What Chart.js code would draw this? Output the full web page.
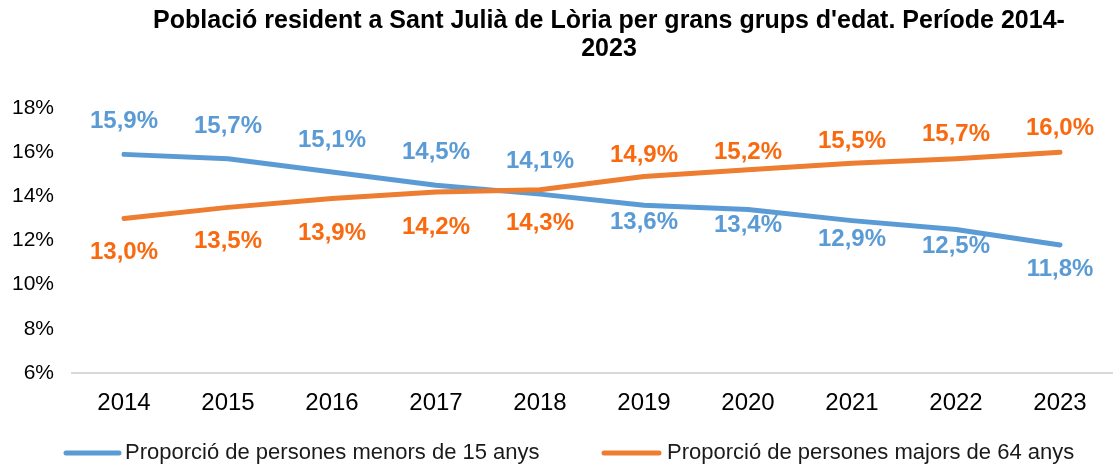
<!DOCTYPE html>
<html>
<head>
<meta charset="utf-8">
<script src="https://cdn.jsdelivr.net/npm/chart.js@4.4.0/dist/chart.umd.min.js"></script>
<style>
html,body{margin:0;padding:0;background:#fff;}
#wrap{width:1120px;height:470px;position:relative;}
</style>
</head>
<body>
<div id="wrap"><canvas id="c" width="1120" height="470"></canvas></div>
<script>
const categories = ['2014','2015','2016','2017','2018','2019','2020','2021','2022','2023'];
const menors15 = [15.9, 15.7, 15.1, 14.5, 14.1, 13.6, 13.4, 12.9, 12.5, 11.8];
const majors64 = [13.0, 13.5, 13.9, 14.2, 14.3, 14.9, 15.2, 15.5, 15.7, 16.0];
const yTicks = [6, 8, 10, 12, 14, 16, 18];
const seriesNames = ['Proporció de persones menors de 15 anys', 'Proporció de persones majors de 64 anys'];
const titleLines = ["Població resident a Sant Julià de Lòria per grans grups d'edat. Període 2014-", '2023'];

const BLUE = '#5B9BD5', ORANGE = '#ED7D31', ORANGE_TXT = '#F96A10';
const FONT = '"Liberation Sans", Arial, sans-serif';

// label vertical offsets (style only)
const labelDy = [
  [-33,-32,-32,-33,-33, 17, 16, 19, 17, 24],
  [ 34, 34, 35, 35, 34,-21,-17,-22,-24,-24]
];

const fmt = v => v.toFixed(1).replace('.', ',') + '%';

const decor = {
  id: 'decor',
  afterDatasetsDraw(chart) {
    const ctx = chart.ctx;
    ctx.save();
    ctx.font = 'bold 24px ' + FONT;
    ctx.textAlign = 'center';
    ctx.textBaseline = 'middle';
    chart.data.datasets.forEach((ds, di) => {
      const meta = chart.getDatasetMeta(di);
      const dyArr = labelDy[ds.seriesIndex];
      ctx.fillStyle = ds.seriesIndex === 0 ? BLUE : ORANGE_TXT;
      meta.data.forEach((pt, i) => {
        ctx.fillText(fmt(ds.data[i]), pt.x, pt.y + dyArr[i]);
      });
    });
    ctx.restore();
  },
  afterDraw(chart) {
    const ctx = chart.ctx;
    ctx.save();
    // title
    ctx.fillStyle = '#000';
    ctx.font = 'bold 25px ' + FONT;
    ctx.textAlign = 'center';
    ctx.textBaseline = 'middle';
    ctx.fillText(titleLines[0], 609, 21);
    ctx.fillText(titleLines[1], 609, 49);
    // legend
    const items = [
      {x0: 66, x1: 119, tx: 125, color: BLUE, text: seriesNames[0]},
      {x0: 604, x1: 659, tx: 667, color: ORANGE, text: seriesNames[1]}
    ];
    const ly = 453;
    ctx.font = '22px ' + FONT;
    ctx.textAlign = 'left';
    items.forEach(it => {
      ctx.strokeStyle = it.color;
      ctx.lineWidth = 5;
      ctx.lineCap = 'round';
      ctx.beginPath();
      ctx.moveTo(it.x0, ly);
      ctx.lineTo(it.x1, ly);
      ctx.stroke();
      ctx.fillStyle = '#1a1a1a';
      ctx.fillText(it.text, it.tx, ly);
    });
    ctx.restore();
  }
};

new Chart(document.getElementById('c'), {
  type: 'line',
  data: {
    labels: categories,
    datasets: [
      {label: seriesNames[0], seriesIndex: 0, data: menors15, borderColor: BLUE, backgroundColor: BLUE, order: 1},
      {label: seriesNames[1], seriesIndex: 1, data: majors64, borderColor: ORANGE, backgroundColor: ORANGE, order: 0}
    ]
  },
  options: {
    responsive: false,
    animation: false,
    devicePixelRatio: 1,
    layout: {padding: {top: 108, right: 8, bottom: 0, left: 0}},
    elements: {
      line: {borderWidth: 5, tension: 0, borderCapStyle: 'round', borderJoinStyle: 'round'},
      point: {radius: 0, hoverRadius: 0}
    },
    plugins: {legend: {display: false}, title: {display: false}, tooltip: {enabled: false}},
    scales: {
      x: {
        offset: true,
        grid: {display: false, drawTicks: false},
        border: {display: true, color: '#D9D9D9', width: 2},
        ticks: {color: '#000', font: {family: FONT, size: 24}, padding: 16, maxRotation: 0},
        afterFit(s) { s.height = 97; }
      },
      y: {
        min: 6, max: 18,
        afterBuildTicks(s) { s.ticks = yTicks.map(v => ({value: v})); },
        grid: {display: false, drawTicks: false},
        border: {display: false},
        ticks: {color: '#000', font: {family: FONT, size: 21}, padding: 18, callback: v => v + '%'},
        afterFit(s) { s.width = 72; }
      }
    }
  },
  plugins: [decor]
});
</script>
</body>
</html>
